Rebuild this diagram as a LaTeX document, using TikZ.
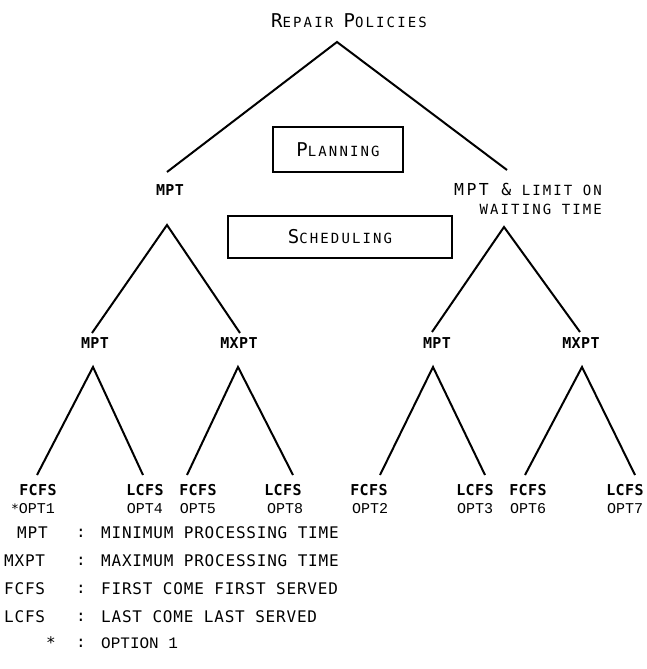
\documentclass[tikz,border=0pt]{standalone}
\usepackage{fontspec}
\newfontfamily\scfont{DejaVu Sans Mono}[LetterSpace=15]
\newfontfamily\treefont{DejaVu Sans Mono}[LetterSpace=3]
\newfontfamily\legfont{DejaVu Sans Mono}[LetterSpace=5]
\newfontfamily\optfont{Liberation Mono}
\newcommand\capbig[1]{{\fontsize{19}{19}\selectfont #1}}
\begin{document}
\begin{tikzpicture}[x=1pt,y=-1pt,
  branch/.style={line width=2pt, line join=miter},
  scl/.style={inner sep=0pt, font=\scfont\fontsize{14}{19}\selectfont},
  boxnode/.style={draw, line width=2pt, inner sep=0pt, font=\scfont\fontsize{14}{19}\selectfont},
  lbl/.style={inner sep=0pt, font=\treefont\bfseries\fontsize{15}{15}\selectfont},
  opt/.style={inner sep=0pt, font=\optfont\fontsize{15}{15}\selectfont},
  leg/.style={inner sep=0pt, anchor=west, font=\legfont\fontsize{16}{16}\selectfont}
]
\useasboundingbox (0,0) rectangle (646,669);
\fill[white] (0,0) rectangle (646,669);

% title and planning level
\node[scl] (title) at (349,21) {\capbig{R}EPAIR \capbig{P}OLICIES};
\node[boxnode, minimum width=130pt, minimum height=45pt] (plan) at (338,149.5) {\capbig{P}LANNING};
\node[boxnode, minimum width=224pt, minimum height=42pt] (sched) at (340,237) {\capbig{S}CHEDULING};

\coordinate (a0) at (337,42);
\coordinate (e1L) at (167,172);
\coordinate (e1R) at (507,170);
\draw[branch] (e1L) -- (a0) -- (e1R);

\node[lbl] (mptA) at (170,190) {MPT};
\node[inner sep=0pt, align=right, anchor=east, font=\scfont\fontsize{14}{19}\selectfont] (mptB) at (602,198.5)
  {{\fontsize{16.5}{16.5}\selectfont MPT \&} LIMIT ON\\WAITING TIME};

% level 2
\coordinate (a1L) at (167,225);
\coordinate (a1R) at (504,227);
\coordinate (e2a) at (92,333);
\coordinate (e2b) at (240,333);
\coordinate (e2c) at (432,332);
\coordinate (e2d) at (580,332);
\draw[branch] (e2a) -- (a1L) -- (e2b);
\draw[branch] (e2c) -- (a1R) -- (e2d);

\node[lbl] (l3a) at (95,343) {MPT};
\node[lbl] (l3b) at (239,343) {MXPT};
\node[lbl] (l3c) at (437,343) {MPT};
\node[lbl] (l3d) at (581,343) {MXPT};

% level 3
\coordinate (a2a) at (93,367);
\coordinate (a2b) at (238,367);
\coordinate (a2c) at (433,367);
\coordinate (a2d) at (582,367);
\coordinate (f1) at (37,475);
\coordinate (f2) at (143,475);
\coordinate (f3) at (187,475);
\coordinate (f4) at (293,475);
\coordinate (f5) at (380,475);
\coordinate (f6) at (485,475);
\coordinate (f7) at (525,475);
\coordinate (f8) at (635,475);
\draw[branch] (f1) -- (a2a) -- (f2);
\draw[branch] (f3) -- (a2b) -- (f4);
\draw[branch] (f5) -- (a2c) -- (f6);
\draw[branch] (f7) -- (a2d) -- (f8);

% leaves
\node[lbl] (x1) at (38,490) {FCFS};
\node[lbl] (x2) at (145,490) {LCFS};
\node[lbl] (x3) at (198,490) {FCFS};
\node[lbl] (x4) at (283,490) {LCFS};
\node[lbl] (x5) at (369,490) {FCFS};
\node[lbl] (x6) at (475,490) {LCFS};
\node[lbl] (x7) at (528,490) {FCFS};
\node[lbl] (x8) at (625,490) {LCFS};

\node[opt] (o1) at (33,509) {{\treefont\fontsize{13}{13}\selectfont *}OPT1};
\node[opt] (o4) at (145,509) {OPT4};
\node[opt] (o5) at (198,509) {OPT5};
\node[opt] (o8) at (285,509) {OPT8};
\node[opt] (o2) at (370,509) {OPT2};
\node[opt] (o3) at (475,509) {OPT3};
\node[opt] (o6) at (528,509) {OPT6};
\node[opt] (o7) at (625,509) {OPT7};

% legend
\node[leg] (k1) at (17,533) {MPT};
\node[leg] (k2) at (4,561) {MXPT};
\node[leg] (k3) at (4,589) {FCFS};
\node[leg] (k4) at (4,617) {LCFS};
\node[leg] (k5) at (46,643) {*};
\node[leg] (c1) at (76,533) {:};
\node[leg] (c2) at (76,561) {:};
\node[leg] (c3) at (76,589) {:};
\node[leg] (c4) at (76,617) {:};
\node[leg] (c5) at (76,643) {:};
\node[leg] (d1) at (101,533) {MINIMUM PROCESSING TIME};
\node[leg] (d2) at (101,561) {MAXIMUM PROCESSING TIME};
\node[leg] (d3) at (101,589) {FIRST COME FIRST SERVED};
\node[leg] (d4) at (101,617) {LAST COME LAST SERVED};
\node[leg, font=\optfont\fontsize{16}{16}\selectfont] (d5) at (101,643) {OPTION 1};
\end{tikzpicture}
\end{document}
